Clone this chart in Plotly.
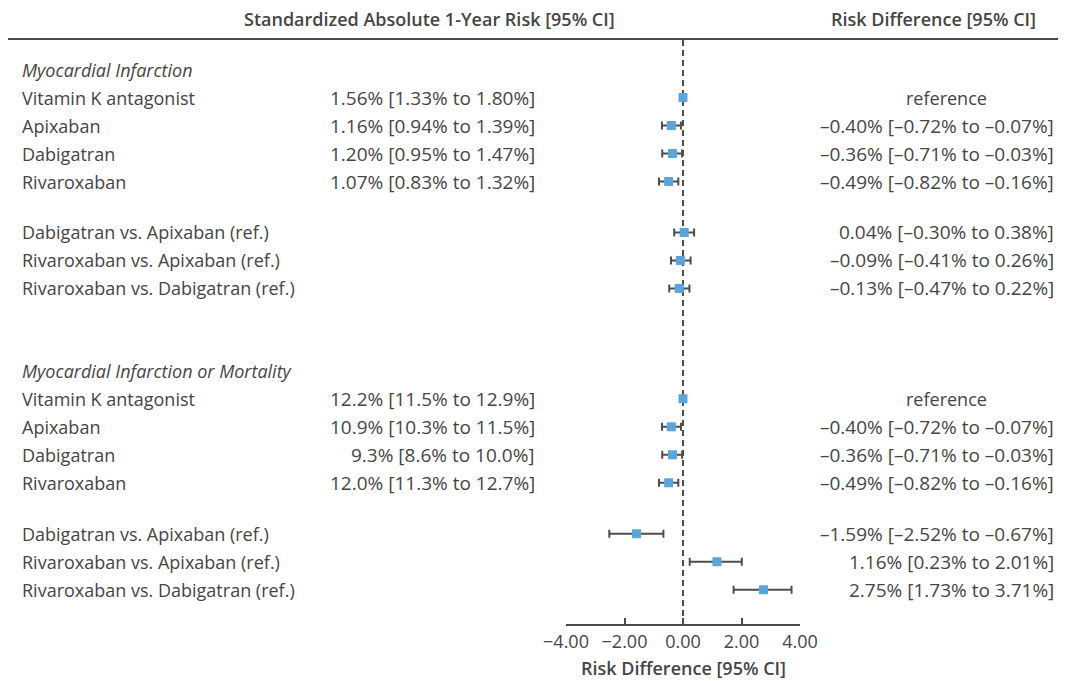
import plotly.graph_objects as go

# ---------------- data ----------------
drug_labels = ["Vitamin K antagonist", "Apixaban", "Dabigatran", "Rivaroxaban"]
cmp_labels = ["Dabigatran vs. Apixaban (ref.)",
              "Rivaroxaban vs. Apixaban (ref.)",
              "Rivaroxaban vs. Dabigatran (ref.)"]

# Section 1: Myocardial infarction
mi_title = "Myocardial Infarction"
mi_abs = [1.56, 1.16, 1.20, 1.07]
mi_abs_lo = [1.33, 0.94, 0.95, 0.83]
mi_abs_hi = [1.80, 1.39, 1.47, 1.32]
mi_abs_dec = 2
mi_rd = [-0.40, -0.36, -0.49]
mi_rd_lo = [-0.72, -0.71, -0.82]
mi_rd_hi = [-0.07, -0.03, -0.16]
mi_cmp = [0.04, -0.09, -0.13]
mi_cmp_lo = [-0.30, -0.41, -0.47]
mi_cmp_hi = [0.38, 0.26, 0.22]

# Section 2: Myocardial infarction or mortality
mm_title = "Myocardial Infarction or Mortality"
mm_abs = [12.2, 10.9, 9.3, 12.0]
mm_abs_lo = [11.5, 10.3, 8.6, 11.3]
mm_abs_hi = [12.9, 11.5, 10.0, 12.7]
mm_abs_dec = 1
mm_rd = [-0.40, -0.36, -0.49]
mm_rd_lo = [-0.72, -0.71, -0.82]
mm_rd_hi = [-0.07, -0.03, -0.16]
mm_cmp = [-1.59, 1.16, 2.75]
mm_cmp_lo = [-2.52, 0.23, 1.73]
mm_cmp_hi = [-0.67, 2.01, 3.71]

x_ticks = [-4, -2, 0, 2, 4]
header_left = "Standardized Absolute 1-Year Risk [95% CI]"
header_right = "Risk Difference [95% CI]"
x_title = "Risk Difference [95% CI]"

# ---------------- styling / layout ----------------
VIEW_W, VIEW_H = 1066, 681
OFF = 8                      # default page body margin
W, H = VIEW_W - OFF, VIEW_H - OFF
FONT = "Open Sans"
FS_LABEL = 18
FS_NUM = 19
FS_HEAD = 18
TXT = "#454545"
LINE = "#4d4d4d"
BLUE = "#5aa5dc"

ROW_PX = 28.0          # pixel pitch of a row
TOP_PX = 69.5          # page pixel position of first section title
SECTION_OFFSETS = [0.0, 10.76]
CMP_GAP = 1.82         # extra spacing before comparison rows

def px_to_paper_x(px):
    return max(0.0, min(1.0, (px - OFF) / W))

def px_to_paper_y(py):
    return max(0.0, min(1.0, 1 - (py - OFF) / H))

# y axis in "row slot" units, reversed
y_top = (OFF - TOP_PX) / ROW_PX
y_bot = (VIEW_H - TOP_PX) / ROW_PX

def fmt(v, d):
    s = f"{v:.{d}f}"
    return s.replace("-", "\u2013")

def ci_text(v, lo, hi, d):
    return f"{fmt(v, d)}% [{fmt(lo, d)}% to {fmt(hi, d)}%]"

sections = [
    (mi_title, mi_abs, mi_abs_lo, mi_abs_hi, mi_abs_dec, mi_rd, mi_rd_lo, mi_rd_hi,
     mi_cmp, mi_cmp_lo, mi_cmp_hi),
    (mm_title, mm_abs, mm_abs_lo, mm_abs_hi, mm_abs_dec, mm_rd, mm_rd_lo, mm_rd_hi,
     mm_cmp, mm_cmp_lo, mm_cmp_hi),
]

fig = go.Figure()
ann = []

ref_x, ref_y = [], []
est_x, est_y, err_plus, err_minus = [], [], [], []

def add_text(text, xpx, y, anchor, size, italic=False):
    ann.append(dict(
        text=f"<i>{text}</i>" if italic else text,
        x=px_to_paper_x(xpx), xref="paper", y=y, yref="y",
        xanchor=anchor, yanchor="middle", showarrow=False,
        font=dict(family=FONT, size=size, color=TXT)))

for off, sec in zip(SECTION_OFFSETS, sections):
    (title, ab, ab_lo, ab_hi, dec, rd, rd_lo, rd_hi, cm, cm_lo, cm_hi) = sec
    add_text(title, 20, off, "left", FS_LABEL, italic=True)
    for i, lab in enumerate(drug_labels):
        y = off + 1 + i
        add_text(lab, 20, y, "left", FS_LABEL)
        add_text(ci_text(ab[i], ab_lo[i], ab_hi[i], dec), 537, y, "right", FS_NUM)
        if i == 0:
            add_text("reference", 946, y, "center", FS_LABEL)
            ref_x.append(0)
            ref_y.append(y)
        else:
            v, lo, hi = rd[i - 1], rd_lo[i - 1], rd_hi[i - 1]
            add_text(ci_text(v, lo, hi, 2), 1056, y, "right", FS_NUM)
            est_x.append(v); est_y.append(y)
            err_plus.append(hi - v); err_minus.append(v - lo)
    for j, lab in enumerate(cmp_labels):
        y = off + 4 + CMP_GAP + j
        add_text(lab, 20, y, "left", FS_LABEL)
        v, lo, hi = cm[j], cm_lo[j], cm_hi[j]
        add_text(ci_text(v, lo, hi, 2), 1056, y, "right", FS_NUM)
        est_x.append(v); est_y.append(y)
        err_plus.append(hi - v); err_minus.append(v - lo)

fig.add_trace(go.Scatter(
    x=est_x, y=est_y, mode="markers",
    marker=dict(symbol="square", size=9, color=BLUE, line=dict(width=0)),
    error_x=dict(type="data", symmetric=False, array=err_plus, arrayminus=err_minus,
                 color=LINE, thickness=2, width=4),
    hoverinfo="skip", showlegend=False))
fig.add_trace(go.Scatter(
    x=ref_x, y=ref_y, mode="markers",
    marker=dict(symbol="square", size=9, color=BLUE, line=dict(width=0)),
    hoverinfo="skip", showlegend=False))

# headers
for text, cx in [(header_left, 429), (header_right, 933)]:
    ann.append(dict(text=text, x=px_to_paper_x(cx), xref="paper",
                    y=px_to_paper_y(19), yref="paper", xanchor="center", yanchor="middle",
                    showarrow=False,
                    font=dict(family=FONT, size=FS_HEAD, color=TXT, weight=600)))
# x-axis title (anchored at the bottom edge so it is not clipped)
ann.append(dict(text=x_title, x=px_to_paper_x(683), xref="paper",
                y=0, yref="paper", xanchor="center", yanchor="bottom",
                showarrow=False, borderpad=0,
                font=dict(family=FONT, size=FS_HEAD, color=TXT, weight=600)))

shapes = [
    dict(type="line", xref="paper", yref="paper",
         x0=px_to_paper_x(7), x1=1, y0=px_to_paper_y(39), y1=px_to_paper_y(39),
         line=dict(color=LINE, width=2)),
    dict(type="line", xref="x", yref="paper", x0=0, x1=0,
         y0=px_to_paper_y(40), y1=px_to_paper_y(625),
         line=dict(color=LINE, width=2, dash="6px,4px"), layer="below"),
]

fig.update_layout(
    width=W, height=H,
    margin=dict(l=0, r=0, t=0, b=0, pad=0, autoexpand=False),
    plot_bgcolor="white", paper_bgcolor="white",
    annotations=ann, shapes=shapes,
    xaxis=dict(domain=[px_to_paper_x(566), px_to_paper_x(800)], range=[-4, 4],
               anchor="free", position=px_to_paper_y(625),
               showgrid=False, zeroline=False,
               showline=True, linecolor=LINE, linewidth=2,
               ticks="inside", ticklen=6, tickwidth=2, tickcolor=LINE,
               tickvals=x_ticks, tickformat=".2f",
               tickfont=dict(family=FONT, size=FS_LABEL, color=TXT)),
    yaxis=dict(domain=[0, 1], range=[y_bot, y_top], visible=False,
               showgrid=False, zeroline=False),
)

fig.write_html("out.html")
